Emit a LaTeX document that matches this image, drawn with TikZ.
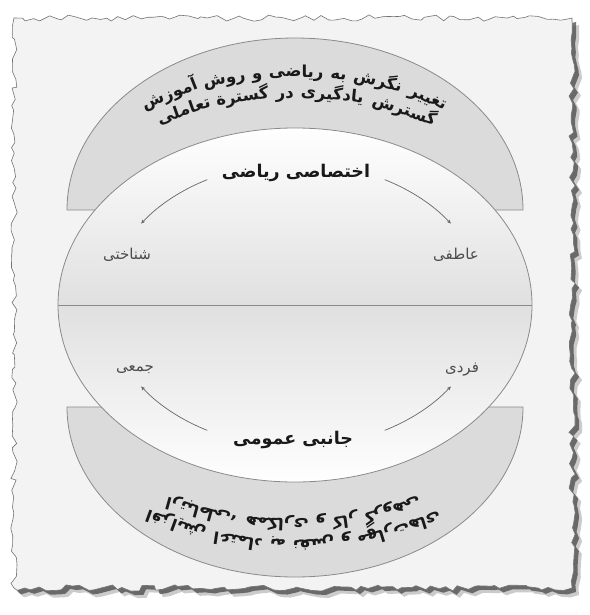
\documentclass[tikz,border=0pt]{standalone}
\usepackage{fontspec}
\usetikzlibrary{arrows.meta,decorations.pathmorphing}
\TeXXeTstate=1
\newfontfamily\arabicfont[Script=Arabic]{DejaVu Sans}
\definecolor{paper}{HTML}{F3F3F3}
\definecolor{bandgray}{HTML}{DBDBDB}
\definecolor{edgegray}{HTML}{8A8A8A}
\definecolor{midgray}{HTML}{E0E0E0}
\newlength\wtmp
\newcommand\bandfont{\arabicfont\bfseries\fontsize{16.5}{19}\selectfont}
\def\bandgap{6.5}
\newcommand\measureword[1]{%
  \pgfinterruptpicture\sbox0{\bandfont\beginR#1\endR}\global\wtmp=\wd0\endpgfinterruptpicture}
% simulate a line along the arc, starting at angle #3; result in \tspan
\newcommand\simline[4]{%
  \xdef\tcur{#3}%
  \foreach \w in {#4}{%
    \measureword{\w}%
    \pgfmathsetmacro\spd{veclen(#1*sin(\tcur),#2*cos(\tcur))}%
    \pgfmathsetmacro\tm{\tcur+0.5*\wtmp/\spd*57.29578}%
    \pgfmathsetmacro\spdm{veclen(#1*sin(\tm),#2*cos(\tm))}%
    \pgfmathsetmacro\tn{\tm+(0.5*\wtmp+\bandgap)/\spdm*57.29578}%
    \xdef\tcur{\tn}%
  }%
  \pgfmathsetmacro\tsp{\tcur-#3}%
  \xdef\tspan{\tsp}%
}
% #1 A, #2 B, #3 cy, #4 mode (0 top / 1 bottom upside down), #5 prefix, #6 centre angle, #7 words
\newcommand\arcline[7]{%
  \simline{#1}{#2}{40}{#7}%
  \pgfmathsetmacro\tzz{#6-\tspan/2}\xdef\tz{\tzz}%
  \simline{#1}{#2}{\tz}{#7}%
  \pgfmathsetmacro\tzz{#6-\tspan/2}\xdef\tz{\tzz}%
  \xdef\tcur{\tz}%
  \foreach \w [count=\k] in {#7}{%
    \measureword{\w}%
    \pgfmathsetmacro\spd{veclen(#1*sin(\tcur),#2*cos(\tcur))}%
    \pgfmathsetmacro\tm{\tcur+0.5*\wtmp/\spd*57.29578}%
    \pgfmathsetmacro\spdm{veclen(#1*sin(\tm),#2*cos(\tm))}%
    \pgfmathsetmacro\tn{\tm+(0.5*\wtmp+\bandgap)/\spdm*57.29578}%
    \pgfmathsetmacro\rt{atan2(-#2*cos(\tm),#1*sin(\tm))+180*#4}%
    \pgfmathsetmacro\px{295+(1-2*#4)*#1*cos(\tm)}%
    \pgfmathsetmacro\py{#3-(1-2*#4)*#2*sin(\tm)}%
    \node[bandtxt,rotate=\rt] (#5\k) at (\px,\py) {\beginR\w\endR};%
    \xdef\tcur{\tn}%
  }%
}
\tikzset{
  bandtxt/.style={font=\bandfont,anchor=base,inner sep=0pt,text=black!90},
  title/.style={font=\arabicfont\bfseries\fontsize{17.5}{20}\selectfont,inner sep=1pt,text=black!90},
  lab/.style={font=\arabicfont\fontsize{15}{18}\selectfont,inner sep=1pt,text=black!70},
  edge/.style={draw=edgegray,line width=0.8pt},
  band/.style={fill=bandgray,draw=edgegray,line width=0.8pt},
  arr/.style={draw=black!60,line width=0.7pt,-{Stealth[length=4pt,width=3.5pt]}},
  torn/.style={decorate,decoration={random steps,segment length=7pt,amplitude=3.2pt}}
}
\begin{document}
\begin{tikzpicture}[x=1pt,y=-1pt]
\useasboundingbox (0,0) rectangle (589,615);
\fill[white] (0,0) rectangle (589,615);
% torn paper with shadow
\pgfmathsetseed{5}
\begin{scope}[shift={(7,7)}]
\fill[black!45,opacity=0.45,torn] (14,18) -- (572,18) -- (572,588) -- (14,588) -- cycle;
\end{scope}
\pgfmathsetseed{5}
\begin{scope}[shift={(4,4)}]
\fill[black!75,opacity=0.7,torn] (14,18) -- (572,18) -- (572,588) -- (14,588) -- cycle;
\end{scope}
\pgfmathsetseed{5}
\filldraw[fill=paper,draw=black!55,line width=0.6pt,torn] (14,18) -- (572,18) -- (572,588) -- (14,588) -- cycle;
% bands
\filldraw[band] (67,210) arc[start angle=180,end angle=360,x radius=228,y radius=172] -- cycle;
\filldraw[band] (67,407) arc[start angle=180,end angle=0,x radius=228,y radius=170] -- cycle;
% central ellipse
\begin{scope}
\clip (295,305) ellipse[x radius=237,y radius=177];
\shade[top color=white,middle color=white,bottom color=midgray] (50,125) rectangle (540,305);
\shade[top color=midgray,middle color=white,bottom color=white] (50,305) rectangle (540,486);
\end{scope}
\draw[edge] (295,305) ellipse[x radius=237,y radius=177];
\coordinate (hl) at (58,305);
\coordinate (hr) at (532,305);
\draw[edge] (hl) -- (hr);
% band texts
\arcline{224}{133}{210}{0}{ta}{91}{تغییر,نگرش,به,ریاضی,و,روش,آموزش}
\arcline{204}{112}{210}{0}{tb}{90}{گسترش,یادگیری,در,گسترة,تعاملی}
\arcline{224}{133}{407}{1}{ba}{90}{افزایش,اعتماد,به,نفس,و,مهارت‌های}
\arcline{204}{112}{407}{1}{bb}{90}{ارتباطی،,همکاری,و,کار,گروهی}
% titles and labels
\node[title] (tA) at (296,173) {\arabicfont\beginR اختصاصی ریاضی\endR};
\node[title] (tB) at (293,440) {\arabicfont\beginR جانبی عمومی\endR};
\node[lab] (l1) at (127,255) {\beginR شناختی\endR};
\node[lab] (l2) at (456,255) {\beginR عاطفی\endR};
\node[lab] (l3) at (135,370) {\beginR جمعی\endR};
\node[lab] (l4) at (462,370) {\beginR فردی\endR};
% arrows
\coordinate (a1) at ({296+189*cos(118)},{305-142*sin(118)});
\coordinate (a2) at ({296+189*cos(62)},{305-142*sin(62)});
\coordinate (a3) at ({296+189*cos(118)},{305+142*sin(118)});
\coordinate (a4) at ({296+189*cos(62)},{305+142*sin(62)});
\draw[arr] (a1) arc[start angle=-118,end angle=-145,x radius=189,y radius=142];
\draw[arr] (a2) arc[start angle=-62,end angle=-35,x radius=189,y radius=142];
\draw[arr] (a3) arc[start angle=118,end angle=145,x radius=189,y radius=142];
\draw[arr] (a4) arc[start angle=62,end angle=35,x radius=189,y radius=142];
\end{tikzpicture}
\end{document}
